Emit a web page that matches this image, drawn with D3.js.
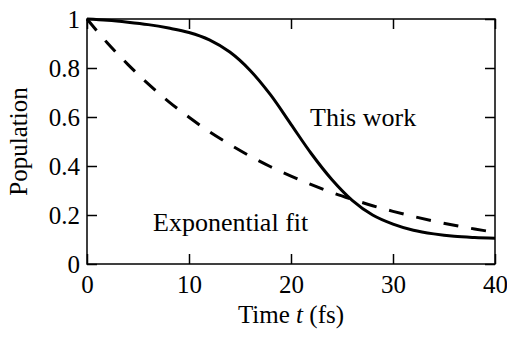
<!DOCTYPE html>
<html>
<head>
<meta charset="utf-8">
<script src="https://cdn.jsdelivr.net/npm/d3@7"></script>
<style>
  body { margin: 0; background: #fff; }
  svg text { font-family: "Liberation Serif", "Times New Roman", serif; fill: #000; }
</style>
</head>
<body>
<svg width="507" height="337"></svg>
<script>
// time axis (fs)
const times = [0, 2, 4, 6, 8, 10, 12, 14, 16, 18, 20, 22, 24, 26, 28, 30, 32, 34, 36, 38, 40];
// "This work" population
const thisWork = [1, 0.995, 0.987, 0.977, 0.963, 0.945, 0.915, 0.865, 0.79, 0.69, 0.57, 0.45, 0.345, 0.26, 0.2, 0.163, 0.138, 0.123, 0.113, 0.108, 0.105];
// exponential fit
const expFit = [1, 0.902, 0.815, 0.735, 0.663, 0.599, 0.54, 0.488, 0.44, 0.397, 0.359, 0.324, 0.292, 0.264, 0.238, 0.215, 0.194, 0.175, 0.158, 0.143, 0.129];
const xTicks = [0, 10, 20, 30, 40];
const yTicks = [0, 0.2, 0.4, 0.6, 0.8, 1];

const svg = d3.select('svg');
const mLeft = 87, mRight = 495, mTop = 19, mBottom = 264;

const x = d3.scaleLinear().domain([0, 40]).range([mLeft, mRight]);
const y = d3.scaleLinear().domain([0, 1]).range([mBottom, mTop]);

const fmt = d => d === 0 || d === 1 ? String(d) : d3.format('.1f')(d);

// axes, ticks pointing in
const gx = svg.append('g')
	.attr('transform', `translate(0,${mBottom})`)
	.call(d3.axisBottom(x).tickValues(xTicks).tickSize(-10).tickSizeOuter(0));
const gy = svg.append('g')
	.attr('transform', `translate(${mLeft},0)`)
	.call(d3.axisLeft(y).tickValues(yTicks).tickFormat(fmt).tickSize(-10).tickSizeOuter(0).tickPadding(7));
const gt = svg.append('g')
	.attr('transform', `translate(0,${mTop})`)
	.call(d3.axisTop(x).tickValues(xTicks).tickSize(-10).tickSizeOuter(0).tickFormat(''));
const gr = svg.append('g')
	.attr('transform', `translate(${mRight},0)`)
	.call(d3.axisRight(y).tickValues(yTicks).tickSize(-10).tickSizeOuter(0).tickFormat(''));

[gx, gy, gt, gr].forEach(g => {
	g.select('.domain').remove();
	g.selectAll('line').attr('stroke', '#000').attr('stroke-width', 1.5);
	g.selectAll('text').attr('font-size', 25).attr('font-family', '"Liberation Serif", serif').attr('fill', '#000');
});
gx.selectAll('text').attr('dy', null).attr('y', 29);
gy.selectAll('text').attr('dy', '0.35em');

svg.append('rect')
	.attr('x', mLeft).attr('y', mTop)
	.attr('width', mRight - mLeft).attr('height', mBottom - mTop)
	.attr('fill', 'none').attr('stroke', '#000').attr('stroke-width', 1.5);

const line = d3.line()
	.x((d, i) => x(times[i]))
	.y(d => y(d))
	.curve(d3.curveCatmullRom);

svg.append('path')
	.datum(expFit)
	.attr('d', line)
	.attr('fill', 'none').attr('stroke', '#000').attr('stroke-width', 3)
	.attr('stroke-dasharray', '15,13');

svg.append('path')
	.datum(thisWork)
	.attr('d', line)
	.attr('fill', 'none').attr('stroke', '#000').attr('stroke-width', 3);

svg.append('text').attr('x', 310).attr('y', 126).attr('font-size', 26).text('This work');
svg.append('text').attr('x', 153).attr('y', 231).attr('font-size', 26).text('Exponential fit');

const xt = svg.append('text').attr('x', (mLeft + mRight) / 2).attr('y', 323)
	.attr('text-anchor', 'middle').attr('font-size', 25);
xt.append('tspan').text('Time ');
xt.append('tspan').attr('font-style', 'italic').text('t');
xt.append('tspan').text(' (fs)');

svg.append('text')
	.attr('transform', `translate(27,${(mTop + mBottom) / 2}) rotate(-90)`)
	.attr('text-anchor', 'middle').attr('font-size', 25)
	.text('Population');
</script>
</body>
</html>
